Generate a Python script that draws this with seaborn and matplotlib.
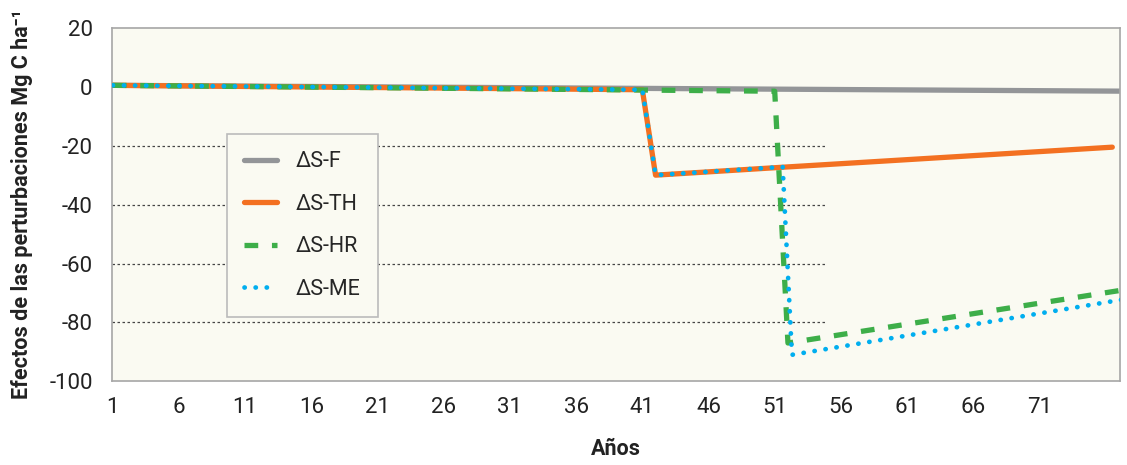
import matplotlib
matplotlib.use('Agg')
import matplotlib.pyplot as plt
import seaborn as sns

# Data
anios_f = [1, 78]
delta_f = [0.5, -1.5]

anios_th = [1, 41, 42, 52, 76.5]
delta_th = [0.5, -1.0, -30.0, -27.2, -20.5]

anios_hr = [1, 51, 52, 78]
delta_hr = [0.5, -1.5, -87.0, -68.5]

anios_me = [1, 41, 42, 51.6, 52.3, 78]
delta_me = [0.5, -1.0, -30.0, -27.2, -91.0, -71.7]

x_ticks = list(range(1, 72, 5))
y_ticks = [20, 0, -20, -40, -60, -80, -100]
grid_levels = [-20, -40, -60, -80]

sns.set_theme(style='white')
plt.rcParams['font.family'] = ['Roboto', 'DejaVu Sans']
plt.rcParams['axes.unicode_minus'] = False

fig, ax = plt.subplots(figsize=(11.27, 4.65), dpi=100)
fig.subplots_adjust(left=0.0995, right=0.994, top=0.94, bottom=0.18)
ax.set_facecolor('#FAFAF2')

for lv in grid_levels:
    ax.axhline(lv, xmin=0, xmax=0.708, color='#444444', lw=0.9, ls=(0, (2, 2)), zorder=1)

sns.lineplot(x=anios_f, y=delta_f, ax=ax, color='#939598', lw=3.8, label='ΔS-F', zorder=2)
sns.lineplot(x=anios_th, y=delta_th, ax=ax, color='#F37021', lw=3.8, label='ΔS-TH', zorder=3)
sns.lineplot(x=anios_hr, y=delta_hr, ax=ax, color='#3DAE49', lw=3.8, label='ΔS-HR',
             linestyle=(0, (2.6, 2.6)), zorder=4)
sns.lineplot(x=anios_me, y=delta_me, ax=ax, color='#00AEEF', lw=3.4, label='ΔS-ME',
             linestyle=(0, (0.05, 2.3)), dash_capstyle='round', zorder=5)

ax.set_xlim(0.95, 77.1)
ax.set_ylim(-100, 20)
ax.set_xticks(x_ticks)
ax.set_yticks(y_ticks)
ax.tick_params(axis='x', direction='inout', length=14, width=2, color='#9A9A9A',
               labelsize=16, pad=4, labelcolor='#222222')
ax.tick_params(axis='y', length=0, labelsize=16, pad=14, labelcolor='#222222')

for s in ax.spines.values():
    s.set_color('#A6A6A6')
    s.set_linewidth(1.2)

ax.set_xlabel('Años', fontsize=15.5, fontweight='bold', color='#222222', labelpad=15)
ax.set_ylabel('Efectos de las perturbaciones Mg C ha⁻¹', fontsize=15.5, fontweight='bold',
              color='#222222', labelpad=12)

leg = ax.legend(loc='upper left', bbox_to_anchor=(0.114, 0.70), fontsize=15.5,
                frameon=True, fancybox=False, facecolor='#FAFAF2', edgecolor='#BBBBBB',
                handlelength=1.5, handletextpad=0.9, labelspacing=1.0,
                borderpad=0.8, borderaxespad=0)
leg.get_frame().set_linewidth(1.2)
leg.get_frame().set_alpha(1)

fig.savefig('out.png', dpi=100)
